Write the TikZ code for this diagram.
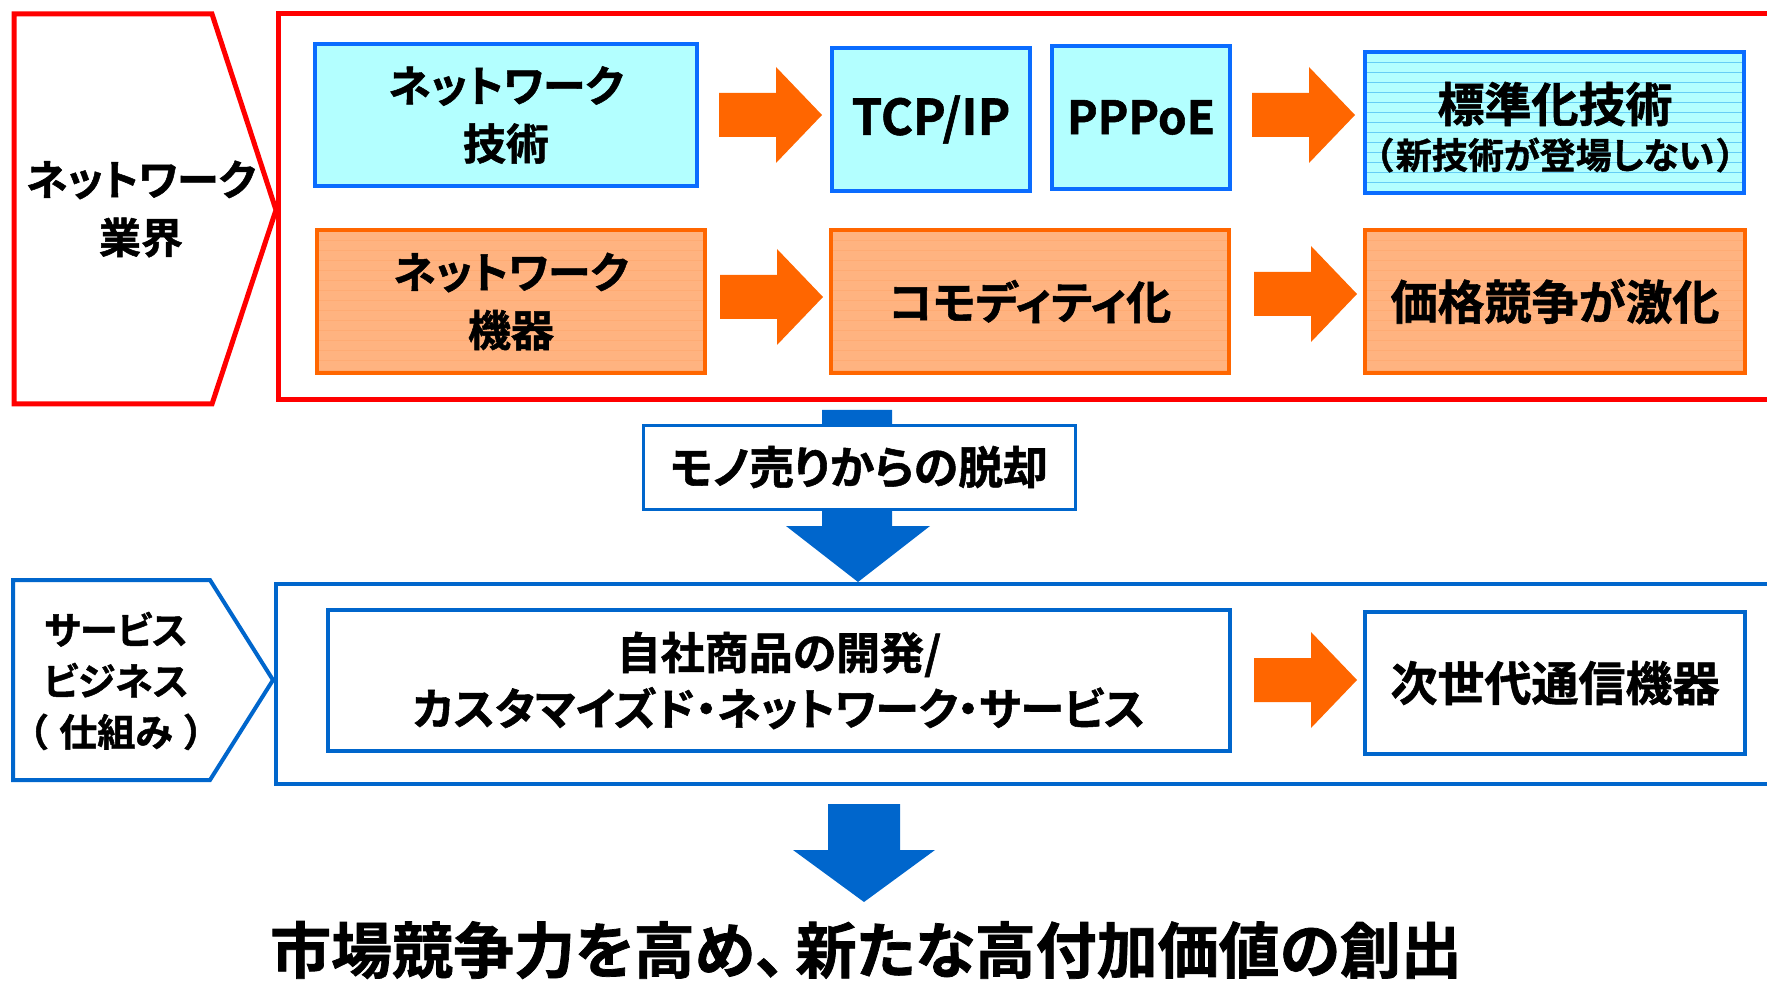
\documentclass[tikz,border=0pt]{standalone}
\usepackage{fontspec}
\setmainfont{Noto Sans CJK JP}[UprightFont=* Bold,RawFeature=+palt,FakeBold=1.2]
\definecolor{framered}{HTML}{FF0000}
\definecolor{techblue}{HTML}{0A6CFF}
\definecolor{techcyan}{HTML}{B3FFFF}
\definecolor{eqorange}{HTML}{FF6600}
\definecolor{eqfill}{HTML}{FFB380}
\definecolor{svcblue}{HTML}{0066CC}
\newcommand{\jfs}[2]{\fontsize{#1}{#2}\selectfont}

\begin{document}
\begin{tikzpicture}[x=1pt,y=-1pt,
	redline/.style={draw=framered,line width=5pt},
	stripe/.style={path picture={\foreach \k in {1,...,16}
		\draw[#1,line width=0.8pt] ([yshift=-\k*10pt]path picture bounding box.north west) -- ([yshift=-\k*10pt]path picture bounding box.north east);}},
	tech/.style={draw=techblue,fill=techcyan,line width=4pt},
	equip/.style={draw=eqorange,fill=eqfill,line width=4pt,stripe=eqorange!55},
	svc/.style={draw=svcblue,fill=white,line width=4pt},
	label/.style={align=center,text=black},
	rarrow/.pic={\fill[eqorange] (0,-22) -- (57,-22) -- (57,-48) -- (103,0) -- (57,48) -- (57,22) -- (0,22) -- cycle;}]
		\useasboundingbox (0,0) rectangle (1767,981);
		\clip (0,0) rectangle (1767,981);
		% network industry
		\draw[redline,fill=white] (14,14) -- (212,14) -- (276,210) -- (212,404) -- (14,404) -- cycle;
		\node[label,font=\jfs{42}{58}] (industry) at (141,209) {ネットワーク\\業界};
		\draw[redline] (278,14) rectangle (1800,400);
		\draw[tech] (315,44) rectangle node[label,font=\jfs{43}{58}] (nettech) {ネットワーク\\技術} (697,186);
		\draw[tech] (832,48) rectangle node[label,font=\jfs{49}{58}] (tcpip) {TCP/IP} (1030,191);
		\draw[tech] (1052,46) rectangle node[label,font=\jfs{46}{58}] (pppoe) {PPPoE} (1230,189);
		\draw[tech,stripe=cyan!60] (1365,52) rectangle (1744,193);
		\node[label,font=\jfs{47}{52}] (std) at (1555,104) {標準化技術};
		\node[label,font=\jfs{36}{40}] (stdnote) at (1555,155) {（\hspace{3pt}新技術が登場しない\hspace{3pt}）};
		\draw[equip] (317,230) rectangle node[label,font=\jfs{43}{58}] (netequip) {ネットワーク\\機器} (705,373);
		\draw[equip] (831,230) rectangle node[label,font=\jfs{45}{52}] (commodity) {コモディティ化} (1229,373);
		\draw[equip] (1365,230) rectangle node[label,font=\jfs{47}{52}] (price) {価格競争が激化} (1745,373);
		\pic at (719,115) {rarrow};
		\pic at (1252,115) {rarrow};
		\pic at (720,297) {rarrow};
		\pic at (1254,294) {rarrow};
		% away from selling things
		\fill[svcblue] (822,410) -- (892,410) -- (892,526) -- (930,526) -- (858,582) -- (786,526) -- (822,526) -- cycle;
		\draw[svc,line width=3pt] (643,425) rectangle node[label,font=\jfs{45}{48}] (shift) {モノ売りからの脱却} (1075,509);
		% service business
		\draw[svc] (13,580) -- (210,580) -- (273,680) -- (210,780) -- (13,780) -- cycle;
		\node[label,font=\jfs{38}{51}] (service) at (116,681) {サービス\\ビジネス\\（\hspace{12pt}仕組み\hspace{12pt}）};
		\draw[svc] (276,584) rectangle (1800,784);
		\draw[svc] (328,610) rectangle node[label,font=\jfs{44}{56}] (own) {自社商品の開発/\\カスタマイズド・ネットワーク・サービス} (1230,751);
		\pic at (1254,680) {rarrow};
		\draw[svc] (1365,612) rectangle node[label,font=\jfs{47}{52}] (nextgen) {次世代通信機器} (1745,754);
		\fill[svcblue] (828,804) -- (900,804) -- (900,850) -- (935,850) -- (864,902) -- (793,850) -- (828,850) -- cycle;
		\node[label,font=\jfs{61}{64}] (goal) at (866,950) {市場競争力を高め、\hspace{10pt}新たな高付加価値の創出};
\end{tikzpicture}
\end{document}
